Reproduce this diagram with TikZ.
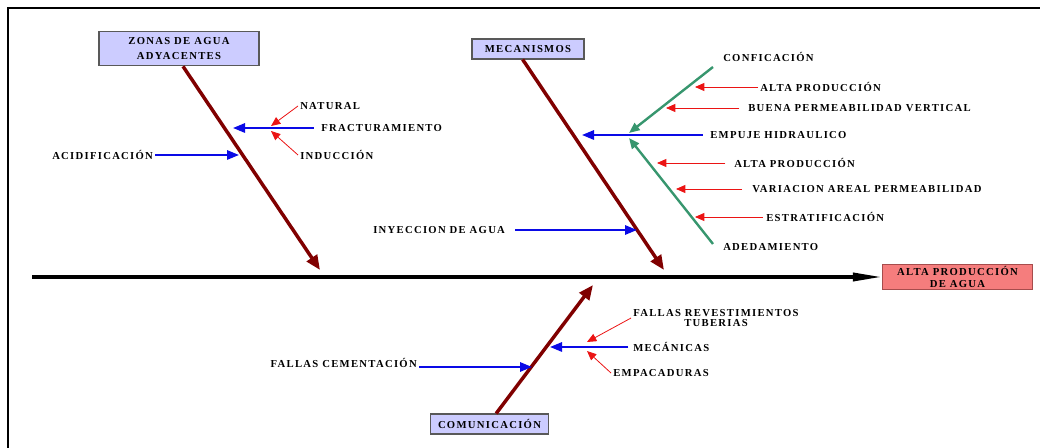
\documentclass[tikz,border=0pt]{standalone}
\usepackage{fontspec}
\setmainfont{Liberation Serif}
\newfontfamily\rotulo[LetterSpace=12]{Liberation Serif}
\usetikzlibrary{arrows.meta,calc}

\definecolor{marron}{RGB}{128,0,0}
\definecolor{azul}{RGB}{10,10,230}
\definecolor{rojo}{RGB}{235,20,20}
\definecolor{verde}{RGB}{55,150,110}
\definecolor{lila}{RGB}{204,204,255}
\definecolor{coral}{RGB}{245,125,125}

\tikzset{
  texto/.style={font=\rotulo\bfseries\fontsize{8}{11}\selectfont, inner sep=1.5pt},
  caja/.style={texto, draw=black!65, line width=0.8pt, fill=lila, align=center},
  espina/.style={line width=2.6pt, -{Triangle[length=22pt,width=6pt]}},
  hueso/.style={marron, line width=2.6pt, -{Triangle[length=11pt,width=9pt]}},
  causa/.style={azul, line width=1.5pt, -{Triangle[length=9pt,width=7pt]}},
  subcausa/.style={rojo, line width=0.6pt, -{Triangle[length=7pt,width=6pt]}},
  rama/.style={verde, line width=1.8pt, -{Triangle[length=8pt,width=6.5pt]}},
}

\begin{document}
\begin{tikzpicture}[x=0.75pt,y=-0.75pt]
  \useasboundingbox (0,0) rectangle (1040,448);

  % Marco
  \draw[line width=1.8pt] (8,448) -- (8,8) -- (1040,8);

  % Cajas de categorias y efecto
  \node[caja, minimum width=120pt, minimum height=26pt] (zonas) at (179,48.5) {ZONAS DE AGUA\\ADYACENTES};
  \node[caja, minimum width=84pt, minimum height=15pt] (meca) at (528,49) {MECANISMOS};
  \node[caja, minimum width=89pt, minimum height=15pt] (comu) at (489.5,424) {COMUNICACIÓN};
  \node[caja, fill=coral, draw=marron!70, minimum width=112pt, minimum height=19pt] (efecto) at (957.5,277) {ALTA PRODUCCIÓN\\[-2pt]DE AGUA};

  % Espina central
  \coordinate (cola) at (32,277);
  \draw[espina] (cola) -- (efecto.west);

  % Huesos principales
  \coordinate (pA) at (320,270);
  \coordinate (pB) at (664,270);
  \coordinate (pC) at (593,285);
  \draw[hueso] ([xshift=3pt]zonas.south) -- (pA);
  \draw[hueso] ([xshift=-4pt]meca.south) -- (pB);
  \draw[hueso] ([xshift=5pt]comu.north) -- (pC);

  % Zonas de agua adyacentes
  \node[texto, anchor=west] (acid) at (50,155) {ACIDIFICACIÓN};
  \node[texto, anchor=west] (fract) at (319,128) {FRACTURAMIENTO};
  \node[texto, anchor=west] (nat) at (298,106) {NATURAL};
  \node[texto, anchor=west] (ind) at (298,155) {INDUCCIÓN};
  \coordinate (a1) at (239,155);
  \coordinate (a2) at (233,128);
  \coordinate (a3) at (271,126);
  \coordinate (a4) at (271,131);
  \draw[causa] (acid) -- (a1);
  \draw[causa] ([xshift=-4pt]fract.west) -- (a2);
  \draw[subcausa] (nat.west) -- (a3);
  \draw[subcausa] (ind.west) -- (a4);

  % Mecanismos
  \node[texto, anchor=west] (iny) at (371,230) {INYECCION DE AGUA};
  \node[texto, anchor=west] (empuje) at (708,135) {EMPUJE HIDRAULICO};
  \coordinate (b1) at (637,230);
  \coordinate (b2) at (582,135);
  \draw[causa] ([xshift=6pt]iny.east) -- (b1);
  \draw[causa] ([xshift=-4pt]empuje.west) -- (b2);

  % Empuje hidraulico
  \node[texto, anchor=west] (conf) at (721,57) {CONFICACIÓN};
  \node[texto, anchor=west] (aded) at (721,247) {ADEDAMIENTO};
  \coordinate (v0) at (713,67);
  \coordinate (v1) at (713,244);
  \coordinate (g1) at (629,133);
  \coordinate (g2) at (629,138);
  \draw[rama] (v0) -- (g1);
  \draw[rama] (v1) -- (g2);

  \node[texto, anchor=west] (alta1) at (758,87) {ALTA PRODUCCIÓN};
  \node[texto, anchor=west] (buena) at (746,108) {BUENA PERMEABILIDAD VERTICAL};
  \node[texto, anchor=west] (alta2) at (732,163) {ALTA PRODUCCIÓN};
  \node[texto, anchor=west] (vari) at (750,189) {VARIACION AREAL PERMEABILIDAD};
  \node[texto, anchor=west] (estr) at (764,217) {ESTRATIFICACIÓN};
  \coordinate (r1) at (695,87);
  \coordinate (r2) at (666,108);
  \coordinate (r3) at (657,163);
  \coordinate (r4) at (676,189);
  \coordinate (r5) at (695,217);
  \draw[subcausa] (alta1.west) -- (r1);
  \draw[subcausa] ([xshift=-5pt]buena.west) -- (r2);
  \draw[subcausa] ([xshift=-5pt]alta2.west) -- (r3);
  \draw[subcausa] ([xshift=-6pt]vari.west) -- (r4);
  \draw[subcausa] ([xshift=-1pt]estr.west) -- (r5);

  % Comunicacion
  \node[texto, anchor=east] (cem) at (419,363) {FALLAS CEMENTACIÓN};
  \node[texto, anchor=west] (mec) at (631,347) {MECÁNICAS};
  \node[texto, align=center] (rev) at (716,318) {FALLAS REVESTIMIENTOS\\[-3pt]TUBERIAS};
  \node[texto, anchor=west] (empa) at (611,373) {EMPACADURAS};
  \coordinate (c1) at (532,367);
  \coordinate (c2) at (550,347);
  \coordinate (c3) at (587,342);
  \coordinate (c4) at (587,351);
  \draw[causa] (cem.east |- c1) -- (c1);
  \draw[causa] ([xshift=-2pt]mec.west) -- (c2);
  \draw[subcausa] (rev.west) -- (c3);
  \draw[subcausa] (empa.west) -- (c4);
\end{tikzpicture}
\end{document}
